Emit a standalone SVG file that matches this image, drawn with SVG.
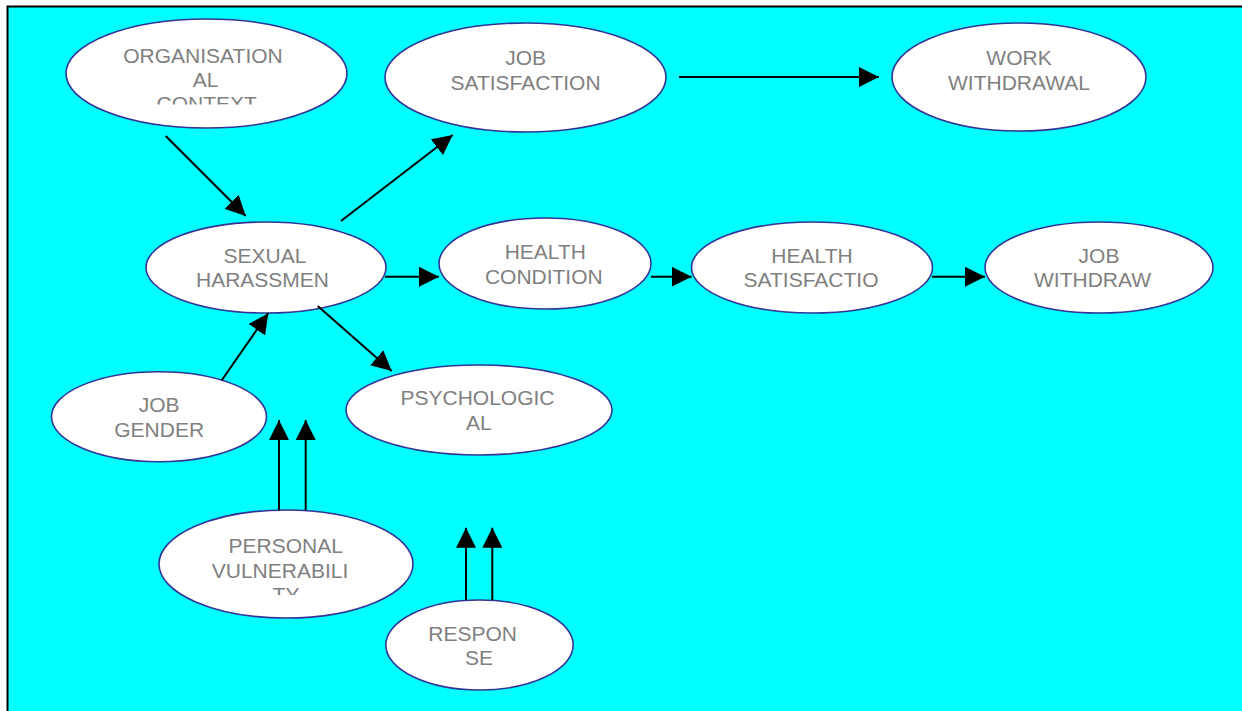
<svg xmlns="http://www.w3.org/2000/svg" width="1242" height="711" viewBox="0 0 1242 711">
<style>
.node ellipse{fill:#ffffff;stroke:#333399;stroke-width:1.6}
.node text{font-family:"Liberation Sans",Arial,sans-serif;font-size:21px;fill:#808080;text-anchor:middle}
.conn line{stroke:#000000;stroke-width:2;marker-end:url(#arr)}
</style>
<defs>
<marker id="arr" viewBox="0 0 20 20" refX="20" refY="10" markerWidth="20" markerHeight="20" markerUnits="userSpaceOnUse" orient="auto">
<path d="M0,0 L20,10 L0,20 z" fill="#000000"/>
</marker>
<clipPath id="clipOrg"><rect x="60" y="15" width="300" height="89.5"/></clipPath>
<clipPath id="clipPv"><rect x="150" y="505" width="270" height="90"/></clipPath>
</defs>
<rect x="7.5" y="6.5" width="1300" height="800" fill="#00ffff" stroke="#000000" stroke-width="2"/>
<g id="org" class="node">
<ellipse cx="206.5" cy="73.5" rx="140.5" ry="54.5"/>
<g clip-path="url(#clipOrg)">
<text x="203" y="62.7">ORGANISATION</text>
<text x="205.7" y="86.7">AL</text>
<text x="206.7" y="110.7">CONTEXT</text>
</g>
</g>
<g id="jobsat" class="node">
<ellipse cx="525.5" cy="77.5" rx="140.5" ry="54.5"/>
<text x="525.7" y="65">JOB</text>
<text x="525.5" y="90">SATISFACTION</text>
</g>
<g id="workwd" class="node">
<ellipse cx="1019" cy="77" rx="127" ry="54"/>
<text x="1019" y="65">WORK</text>
<text x="1019" y="90">WITHDRAWAL</text>
</g>
<g id="sexual" class="node">
<ellipse cx="266" cy="267.5" rx="120" ry="45.5"/>
<text x="265" y="263.3">SEXUAL</text>
<text x="262.5" y="287.3">HARASSMEN</text>
</g>
<g id="healthcond" class="node">
<ellipse cx="545" cy="263.5" rx="106" ry="45.5"/>
<text x="545.3" y="259.3">HEALTH</text>
<text x="543.8" y="284">CONDITION</text>
</g>
<g id="healthsat" class="node">
<ellipse cx="812" cy="267.5" rx="120.5" ry="45.5"/>
<text x="812" y="263.3">HEALTH</text>
<text x="811" y="287.3">SATISFACTIO</text>
</g>
<g id="jobwd" class="node">
<ellipse cx="1099" cy="267.5" rx="114" ry="45.5"/>
<text x="1099" y="263.3">JOB</text>
<text x="1092.5" y="287.3">WITHDRAW</text>
</g>
<g id="psych" class="node">
<ellipse cx="479" cy="410" rx="133" ry="45"/>
<text x="477.5" y="405">PSYCHOLOGIC</text>
<text x="478.8" y="430">AL</text>
</g>
<g id="jobgender" class="node">
<ellipse cx="159" cy="416.7" rx="107.5" ry="45"/>
<text x="159.2" y="412.3">JOB</text>
<text x="159.2" y="436.7">GENDER</text>
</g>
<g id="personal" class="node">
<ellipse cx="286" cy="564" rx="127" ry="54"/>
<g clip-path="url(#clipPv)">
<text x="285.7" y="553">PERSONAL</text>
<text x="280" y="577.7">VULNERABILI</text>
<text x="286" y="602">TY</text>
</g>
</g>
<g id="response" class="node">
<ellipse cx="479.5" cy="645" rx="93.7" ry="45"/>
<text x="472.7" y="641">RESPON</text>
<text x="479" y="665">SE</text>
</g>
<g id="connectors" class="conn">
<line x1="165.7" y1="136" x2="245.7" y2="216"/>
<line x1="341" y1="221" x2="452.7" y2="135"/>
<line x1="679" y1="77" x2="879" y2="77"/>
<line x1="385" y1="276.7" x2="439" y2="276.7"/>
<line x1="651" y1="276.7" x2="691.7" y2="276.7"/>
<line x1="932" y1="276.7" x2="985" y2="276.7"/>
<line x1="317.7" y1="306" x2="391.7" y2="371"/>
<line x1="221.7" y1="380.3" x2="268.3" y2="313.3"/>
<line x1="279" y1="510" x2="279" y2="420"/>
<line x1="305.7" y1="510" x2="305.7" y2="420"/>
<line x1="466" y1="600" x2="466" y2="527.7"/>
<line x1="492.3" y1="600" x2="492.3" y2="527.7"/>
</g>
</svg>
